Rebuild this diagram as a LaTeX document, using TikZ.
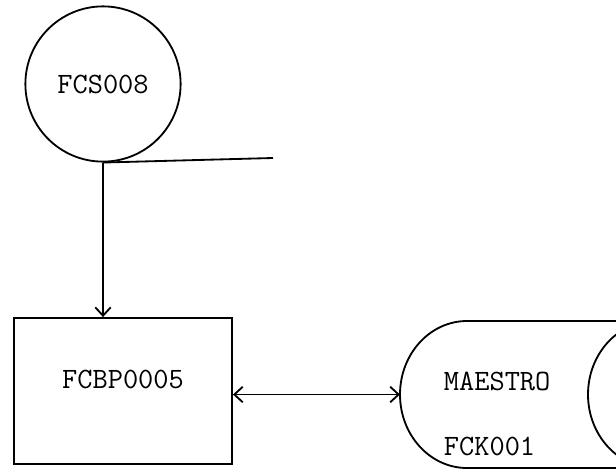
\documentclass[tikz,border=0pt]{standalone}
\usepackage{tikz}
\usetikzlibrary{arrows.meta}

\begin{document}
\begin{tikzpicture}[x=0.025cm,y=0.025cm,line width=1.3pt,
  lbl/.style={font=\fontsize{21pt}{25pt}\selectfont\ttfamily,inner sep=0pt},
  barb/.tip={Straight Barb[length=6pt,width=11pt]}]
\clip (0,0) rectangle (616,470);
\node[circle,draw,minimum size=3.88cm,lbl] (fcs) at (103,386) {FCS008};
\node[draw,minimum width=5.45cm,minimum height=3.65cm,text height=13pt,text depth=16pt,lbl] (box) at (123,79) {FCBP0005};
\coordinate (tapeEnd) at (273,312);
\coordinate (dskW) at (400,75.5);
\draw (fcs.south) -- (tapeEnd);
\draw[-barb] (fcs.south) -- (fcs.south |- box.north);
\draw (680,2) -- (467,2) arc[start angle=270,end angle=90,x radius=67,y radius=73.5] -- (680,149);
\draw (655,75.5) ellipse[x radius=67,y radius=73.5];
\draw[barb-barb] (box.east |- dskW) -- (dskW);
\node[lbl,anchor=base west] (maestro) at (443,80) {MAESTRO};
\node[lbl,anchor=base west] (fck) at (443,15) {FCK001};
\end{tikzpicture}
\end{document}
